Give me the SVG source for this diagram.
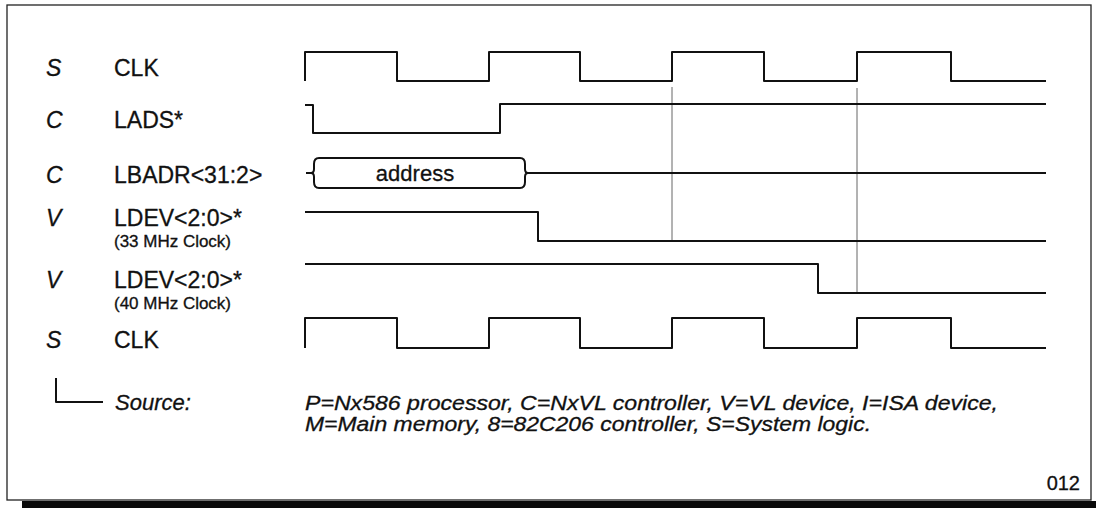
<svg xmlns="http://www.w3.org/2000/svg" width="1096" height="508" viewBox="0 0 1096 508">
  <style>
    .frame { fill: none; stroke: #222; stroke-width: 1.3; }
    .wave { fill: none; stroke: #111; stroke-width: 2; stroke-linejoin: round; }
    .mark { fill: none; stroke: #666; stroke-width: 1; }
    text { font-family: "Liberation Sans", Arial, sans-serif; fill: #111; stroke: #111; stroke-width: 0.3; }
    .lbl { font-size: 23px; }
    .id { font-size: 23px; font-style: italic; }
    .src { font-size: 22px; font-style: italic; }
    .key { font-size: 20px; font-style: italic; }
    .sub { font-size: 16px; }
  </style>

  <rect x="0" y="0" width="1096" height="508" fill="#ffffff" stroke="none"/>

  <!-- page frame with heavy bottom edge -->
  <rect class="frame" x="7" y="5" width="1084" height="495"/>
  <rect x="22" y="501" width="1074" height="7" fill="#0a0a0a"/>

  <!-- reference lines at the clock edges -->
  <g id="connectors">
    <line class="mark" x1="672" y1="87" x2="672" y2="241"/>
    <line class="mark" x1="857" y1="88" x2="857" y2="294"/>
  </g>

  <g id="clk-top">
    <text class="id" x="46" y="76">S</text>
    <text class="lbl" x="114" y="76">CLK</text>
    <path class="wave" d="M305,81 V52 H397 V81 H489 V52 H580 V81 H672 V52 H764 V81 H857 V52 H951 V81 H1046"/>
  </g>

  <g id="lads">
    <text class="id" x="46" y="128">C</text>
    <text class="lbl" x="114" y="128">LADS*</text>
    <path class="wave" d="M305,105 H313 V133 H500 V104 H1046"/>
  </g>

  <g id="lbadr">
    <text class="id" x="46" y="183">C</text>
    <text class="lbl" x="114" y="183">LBADR&lt;31:2&gt;</text>
    <path class="wave" d="M306,173 H311 M319,158 Q314,158 314,164 V169 Q314,173 311,173 Q314,173 314,177 V182 Q314,188 319,188 H520 Q525,188 525,182 V177 Q525,173 528,173 Q525,173 525,169 V164 Q525,158 520,158 Z M528,173 H1046"/>
    <text class="src" x="415" y="181" text-anchor="middle" style="font-style:normal">address</text>
  </g>

  <g id="ldev-33">
    <text class="id" x="46" y="226">V</text>
    <text class="lbl" x="114" y="226">LDEV&lt;2:0&gt;*</text>
    <text class="sub" x="114" y="247" textLength="117" lengthAdjust="spacingAndGlyphs">(33 MHz Clock)</text>
    <path class="wave" d="M305,212 H538 V241 H1046"/>
  </g>

  <g id="ldev-40">
    <text class="id" x="46" y="288">V</text>
    <text class="lbl" x="114" y="288">LDEV&lt;2:0&gt;*</text>
    <text class="sub" x="114" y="309" textLength="117" lengthAdjust="spacingAndGlyphs">(40 MHz Clock)</text>
    <path class="wave" d="M305,264 H818 V293 H1046"/>
  </g>

  <g id="clk-bottom">
    <text class="id" x="46" y="348">S</text>
    <text class="lbl" x="114" y="348">CLK</text>
    <path class="wave" d="M305,348 V318 H397 V348 H489 V318 H580 V348 H672 V318 H764 V348 H857 V318 H951 V348 H1046"/>
  </g>

  <g id="legend">
    <path class="wave" d="M56,378 V402 H103" stroke-width="1.6"/>
    <text class="src" x="115" y="410">Source:</text>
    <text class="key" x="305" y="410" textLength="693" lengthAdjust="spacingAndGlyphs">P=Nx586 processor, C=NxVL controller, V=VL device, I=ISA device,</text>
    <text class="key" x="305" y="431" textLength="566" lengthAdjust="spacingAndGlyphs">M=Main memory, 8=82C206 controller, S=System logic.</text>
  </g>

  <text class="lbl" x="1080" y="490" text-anchor="end" style="font-size:20px">012</text>
</svg>
